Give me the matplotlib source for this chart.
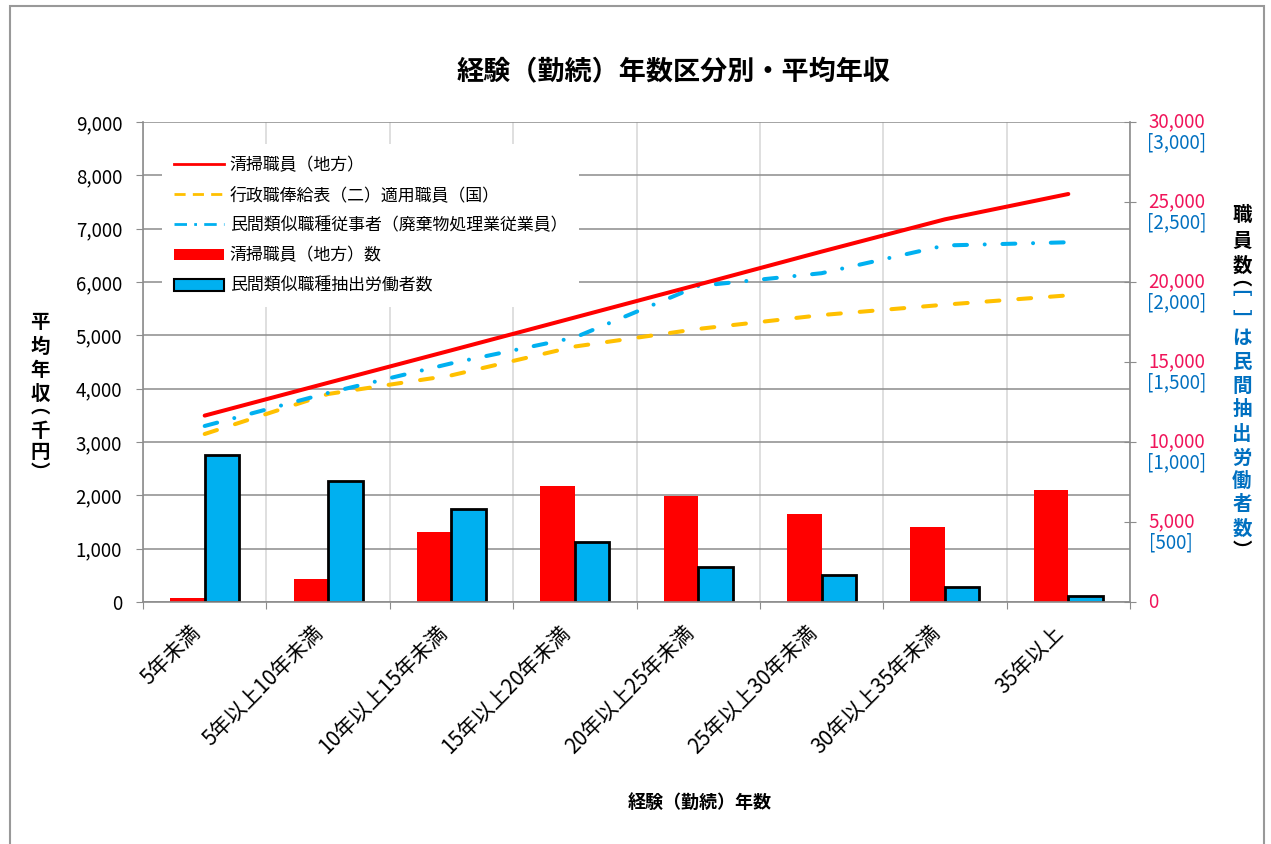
import matplotlib.pyplot as plt
import matplotlib.transforms as mtransforms
from matplotlib.patches import Rectangle, Patch
from matplotlib.lines import Line2D
from matplotlib.ticker import FuncFormatter
import numpy as np

plt.rcParams['font.family'] = ['Noto Sans CJK JP', 'DejaVu Sans']

# ---- data ----
categories = ['5年未満', '5年以上10年未満', '10年以上15年未満', '15年以上20年未満',
              '20年以上25年未満', '25年以上30年未満', '30年以上35年未満', '35年以上']
seiso_income = [3495, 4110, 4720, 5335, 5950, 6570, 7175, 7650]     # 清掃職員(地方)
kokka_income = [3150, 3900, 4250, 4790, 5120, 5380, 5575, 5750]     # 行政職俸給表(二)適用職員(国)
minkan_income = [3300, 3920, 4475, 4960, 5925, 6165, 6685, 6745]    # 民間類似職種従事者
seiso_count = [280, 1440, 4375, 7230, 6600, 5520, 4690, 7020]       # 清掃職員(地方)数
minkan_count = [917, 754, 581, 375, 219, 171, 94, 37]               # 民間類似職種抽出労働者数

RED = '#FF0000'
YELLOW = '#FFC000'
SKY = '#00B0F0'
PINK = '#F0145A'
BLUE = '#0070C0'
GRID = '#8C8C8C'
VGRID = '#D9D9D9'

W, H = 1271, 844
fig = plt.figure(figsize=(W / 100, H / 100), dpi=100)

# outer chart frame
fig.patches.append(Rectangle((10 / W, -0.05), 1254 / W, 1.05 - 6 / H, transform=fig.transFigure,
                             fill=False, edgecolor='#999999', lw=1.5))

ax = fig.add_axes([143 / W, 1 - 602 / H, 987 / W, 480 / H])
axr = ax.twinx()   # 清掃職員数 0-30000
axb = ax.twinx()   # 民間抽出労働者数 0-3000
axl = ax.twinx()   # lines on top
x = np.arange(len(categories))

# host axis: left scale + grid
ax.set_xlim(-0.5, len(categories) - 0.5)
ax.set_ylim(0, 9000)
ax.set_yticks(np.arange(0, 9001, 1000))
ax.yaxis.set_major_formatter(FuncFormatter(lambda v, p: f'{int(v):,}'))
ax.tick_params(axis='y', direction='out', length=5, color=GRID, labelsize=13.5, pad=10)
ax.grid(axis='y', color=GRID, lw=1.1)
ax.set_xticks(np.arange(-0.5, len(categories), 1))
ax.set_xticklabels([])
ax.set_xticks(x, minor=True)
ax.set_xticklabels(categories, minor=True, rotation=45, ha='right', fontsize=15)
ax.tick_params(axis='x', which='major', direction='out', length=5, color=GRID)
ax.tick_params(axis='x', which='minor', length=0, pad=14)
ax.grid(axis='x', which='major', color=VGRID, lw=1.2)
ax.set_axisbelow(True)
for s in ['top', 'right', 'bottom']:
    ax.spines[s].set_visible(False)
ax.spines['left'].set_color(GRID)
ax.spines['left'].set_linewidth(1.2)

bw = 0.28
axr.bar(x - bw / 2, seiso_count, width=bw, color=RED, edgecolor='none', zorder=2)
axr.set_ylim(0, 30000)
axr.set_yticks(np.arange(0, 30001, 5000))
axr.tick_params(axis='y', direction='inout', length=8, color=GRID, labelright=False)
for s in ['top', 'left', 'bottom']:
    axr.spines[s].set_visible(False)
axr.spines['right'].set_color(GRID)
axr.spines['right'].set_linewidth(1.2)

axb.bar(x + bw / 2, minkan_count, width=bw, color=SKY, edgecolor='black', lw=2.0, zorder=2)
axb.set_ylim(0, 3000)
axb.set_yticks([])
for s in axb.spines.values():
    s.set_visible(False)

axl.plot(x, kokka_income, color=YELLOW, lw=2.9, linestyle=(0, (3.2, 4.7)),
         dash_capstyle='round', solid_capstyle='round')
axl.plot(x, minkan_income, color=SKY, lw=2.9, linestyle=(0, (3.2, 4.4, 0.01, 4.4)),
         dash_capstyle='round')
axl.plot(x, seiso_income, color=RED, lw=2.9, solid_capstyle='round', solid_joinstyle='round')
axl.set_ylim(0, 9000)
axl.set_yticks([])
for s in ['top', 'left', 'right']:
    axl.spines[s].set_visible(False)
axl.spines['bottom'].set_color(GRID)
axl.spines['bottom'].set_linewidth(1.2)

# right tick labels: count in pink, private count in blue brackets
renderer = fig.canvas.get_renderer()
trans = mtransforms.blended_transform_factory(axr.transAxes, axr.transData)
x_lab = (1148 - 143) / 987
for v in np.arange(0, 30001, 5000):
    t = axr.text(x_lab, v, f'{v:,}', transform=trans, color=PINK, fontsize=13.5,
                 ha='left', va='center')
    if v > 0:
        bb = t.get_window_extent(renderer)
        cx = ((bb.x0 + bb.x1) / 2 - axr.bbox.x0) / axr.bbox.width
        tb = mtransforms.offset_copy(trans, fig=fig, y=-21, units='dots')
        axr.text(cx, v, f'[{v // 10:,}]', transform=tb, color=BLUE, fontsize=13.5,
                 ha='center', va='center')

# legend
handles = [
    Line2D([], [], color=RED, lw=2),
    Line2D([], [], color=YELLOW, lw=2, linestyle=(0, (4, 2.6))),
    Line2D([], [], color=SKY, lw=2, linestyle=(0, (4.5, 2.6, 1, 2.6))),
    Patch(facecolor=RED, edgecolor='none'),
    Patch(facecolor=SKY, edgecolor='black', lw=1.5),
]
labels = ['清掃職員（地方）', '行政職俸給表（二）適用職員（国）',
          '民間類似職種従事者（廃棄物処理業従業員）', '清掃職員（地方）数',
          '民間類似職種抽出労働者数']
leg = axl.legend(handles, labels, loc='upper left', bbox_to_anchor=(162 / W, 1 - 144 / H),
                 bbox_transform=fig.transFigure, borderaxespad=0, fontsize=12.2,
                 handlelength=2.95, handletextpad=0.35, labelspacing=0.72, borderpad=0.7,
                 frameon=True, fancybox=False, framealpha=1)
leg.get_frame().set_facecolor('white')
leg.get_frame().set_edgecolor('none')

# titles
fig.text(674 / W, 1 - 72 / H, '経験（勤続）年数区分別・平均年収', ha='center', va='center',
         fontsize=19.5, fontweight='bold')
fig.text(700 / W, 1 - 802 / H, '経験（勤続）年数', ha='center', va='center',
         fontsize=13, fontweight='bold')

# vertical axis titles (stacked characters)
left_title = [('平', 322), ('均', 347), ('年', 371), ('収', 395), ('︵', 407),
              ('千', 432), ('円', 452), ('︶', 473)]
for ch, yy in left_title:
    fig.text(40 / W, 1 - yy / H, ch, ha='center', va='center', fontsize=14, fontweight='bold')

right_title = [('職', 215, 'black'), ('員', 241, 'black'), ('数', 266, 'black'),
               ('︵', 279, 'black'), ('﹇', 289, BLUE), ('﹈', 321, BLUE),
               ('は', 338, BLUE), ('民', 362, BLUE), ('間', 386, BLUE), ('抽', 410, BLUE),
               ('出', 434, BLUE), ('労', 458, BLUE), ('働', 481, BLUE), ('者', 505, BLUE),
               ('数', 529, BLUE), ('︶', 551, 'black')]
for ch, yy, col in right_title:
    fig.text(1242 / W, 1 - yy / H, ch, ha='center', va='center', fontsize=14,
             fontweight='bold', color=col)

fig.savefig('out.png', dpi=100)
